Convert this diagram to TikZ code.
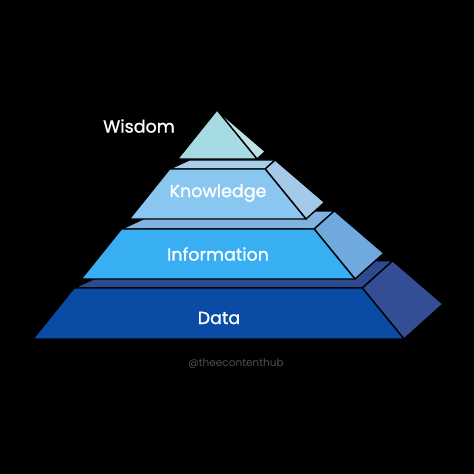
\documentclass[tikz,border=0pt]{standalone}
\usepackage{fontspec}
\setmainfont{Poppins}
\newfontfamily\lblfont[FakeBold=1.0]{Poppins}
\usetikzlibrary{calc}
\definecolor{wisFront}{HTML}{A7DBE4}
\definecolor{wisSide}{HTML}{C0E0E6}
\definecolor{knoTop}{HTML}{A9CEEB}
\definecolor{knoFront}{HTML}{89C7F1}
\definecolor{knoSide}{HTML}{A4C9E9}
\definecolor{infTop}{HTML}{80B3E2}
\definecolor{infFront}{HTML}{38AEF3}
\definecolor{infSide}{HTML}{70A9DE}
\definecolor{datTop}{HTML}{2E4A8E}
\definecolor{datFront}{HTML}{0A4BA6}
\definecolor{datSide}{HTML}{334E94}
\definecolor{wmGray}{HTML}{505050}
\newcommand\pyrlayer[5]{%
  \path[face,fill=#3] ($(A)!#1!(FL)$) -- ($(A)!#1!(FR)$) -- ($(A)!#1!(BR)$) -- ($(A)!#1!(BL)$) -- cycle;
  \path[face,fill=#5] ($(A)!#1!(FR)$) -- ($(A)!#1!(BR)$) -- ($(A)!#2!(BR)$) -- ($(A)!#2!(FR)$) -- cycle;
  \path[face,fill=#4] ($(A)!#1!(FL)$) -- ($(A)!#1!(FR)$) -- ($(A)!#2!(FR)$) -- ($(A)!#2!(FL)$) -- cycle;
}
\begin{document}
\begin{tikzpicture}[x=1pt,y=-1pt,
  face/.style={draw=black,line width=1.4pt,line join=round},
  lbl/.style={text=white,font=\lblfont\fontsize{17.5}{20}\selectfont},
  handle/.style={text=wmGray,font=\fontsize{10.5}{12}\selectfont}]
\fill[black] (0,0) rectangle (474,474);
\useasboundingbox (0,0) rectangle (474,474);
\coordinate (A) at (217,110);
\coordinate (FL) at (33,339);
\coordinate (FR) at (404,339);
\coordinate (BR) at (443,304);
\coordinate (BL) at (109,304);
% Data
\pyrlayer{0.7773}{1}{datTop}{datFront}{datSide}
% Information
\pyrlayer{0.5197}{0.7380}{infTop}{infFront}{infSide}
% Knowledge
\pyrlayer{0.2576}{0.4760}{knoTop}{knoFront}{knoSide}
% Wisdom
\path[face,fill=wisSide] (A) -- ($(A)!0.2140!(FR)$) -- ($(A)!0.2140!(BR)$) -- cycle;
\path[face,fill=wisFront] (A) -- ($(A)!0.2140!(FL)$) -- ($(A)!0.2140!(FR)$) -- cycle;
% labels
\node[lbl] (wisdom) at (139,126) {Wisdom};
\node[lbl] (knowledge) at (218,193) {Knowledge};
\node[lbl] (information) at (218,254) {Information};
\node[lbl] (data) at (219,318) {Data};
\node[handle] (tag) at (236,364) {@theecontenthub};
\end{tikzpicture}
\end{document}
